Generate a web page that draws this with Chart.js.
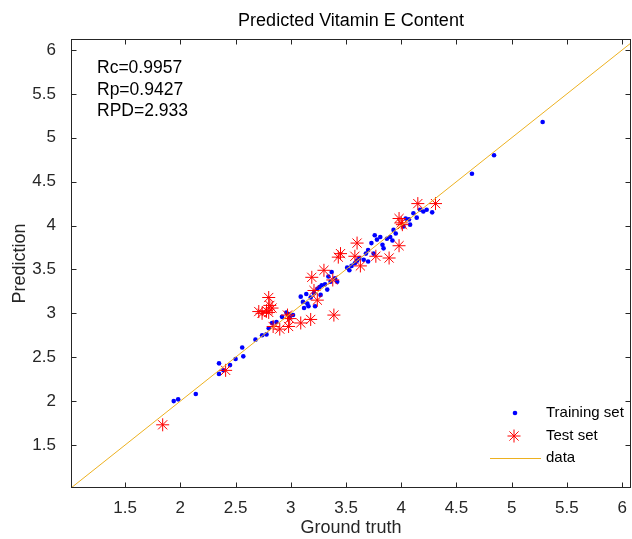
<!DOCTYPE html>
<html>
<head>
<meta charset="utf-8">
<script src="https://cdn.jsdelivr.net/npm/chart.js@4/dist/chart.umd.min.js"></script>
<style>
  html, body { margin: 0; padding: 0; background: #fff; }
  #wrap { width: 632px; height: 539px; }
</style>
</head>
<body>
<div id="wrap"><canvas id="chart" width="632" height="539"></canvas></div>
<script>
// valores
const trainX = [5.28, 4.84, 4.64, 4.28, 1.94, 1.98, 2.14, 2.35, 2.35, 2.45, 2.39, 2.50, 2.56, 2.57, 2.68, 2.74, 2.78, 2.80, 2.83,
  2.87, 2.92, 2.96, 2.99, 3.02, 2.98, 3.09, 3.14, 3.11, 3.15, 3.18, 3.21, 3.22, 3.12, 3.16, 3.27, 3.26, 3.28, 3.31, 3.34,
  3.37, 3.36, 3.40, 3.42, 3.33, 3.24, 3.51, 3.53, 3.55, 3.58, 3.60, 3.62, 3.66, 3.68, 3.70, 3.73, 3.76, 3.78, 3.81, 3.83,
  3.84, 3.87, 3.90, 3.92, 3.93, 3.95, 4.02, 4.04, 4.07, 4.08, 4.11, 4.14, 4.17, 4.20, 4.23, 3.75, 3.70];
const trainY = [5.18, 4.80, 4.59, 4.15, 2.00, 2.02, 2.08, 2.43, 2.31, 2.41, 2.35, 2.48, 2.61, 2.51, 2.70, 2.75, 2.76, 2.83, 2.89,
  2.90, 2.96, 3.01, 2.95, 2.98, 2.99, 3.19, 3.22, 3.13, 3.11, 3.18, 3.23, 3.08, 3.06, 3.08, 3.21, 3.30, 3.32, 3.33, 3.42,
  3.47, 3.36, 3.40, 3.36, 3.27, 3.28, 3.52, 3.49, 3.54, 3.57, 3.60, 3.63, 3.61, 3.68, 3.72, 3.80, 3.89, 3.84, 3.87, 3.78,
  3.74, 3.85, 3.87, 3.83, 3.95, 3.91, 3.99, 4.08, 4.07, 4.01, 4.14, 4.09, 4.18, 4.16, 4.18, 3.68, 3.59];

const testX = [4.15, 4.31, 3.98, 4.00, 4.01, 3.98, 3.60, 3.45, 3.43, 3.58, 3.77, 3.89, 3.63, 3.30, 3.19, 3.38, 3.21, 3.24,
  2.80, 2.81, 2.83, 2.71, 2.74, 2.78, 2.80, 3.39, 2.97, 2.99, 3.18, 3.09, 2.84, 2.90, 2.98, 1.84, 2.41];
const testY = [4.25, 4.25, 4.08, 4.03, 4.01, 3.77, 3.80, 3.68, 3.64, 3.65, 3.65, 3.63, 3.54, 3.49, 3.41, 3.38, 3.26, 3.15,
  3.18, 3.09, 3.06, 3.02, 3.00, 3.03, 3.01, 2.98, 2.98, 2.94, 2.93, 2.89, 2.85, 2.82, 2.85, 1.73, 2.35];

const lineX = [1.01, 6.08];
const lineY = [1.01, 6.08];

const xTicks = [1.5, 2, 2.5, 3, 3.5, 4, 4.5, 5, 5.5, 6];
const yTicks = [1.5, 2, 2.5, 3, 3.5, 4, 4.5, 5, 5.5, 6];

const statsText = ['Rc=0.9957', 'Rp=0.9427', 'RPD=2.933'];
const legendText = ['Training set', 'Test set', 'data'];

const FONT = '"Liberation Sans", Arial, Helvetica, sans-serif';
const AXIS_COLOR = '#262626';
const LINE_COLOR = '#EDB120';

const toPts = (xs, ys) => xs.map((x, i) => ({ x, y: ys[i] }));

// moldura estilo MATLAB, ticks para dentro, textos e legenda
const matlabDecor = {
  id: 'matlabDecor',
  afterDraw(chart) {
    const { ctx, chartArea: a, scales } = chart;
    const L = Math.round(a.left) + 0.5, R = Math.round(a.right) - 0.5;
    const T = Math.round(a.top) + 0.5, B = Math.round(a.bottom) - 0.5;
    ctx.save();
    ctx.strokeStyle = AXIS_COLOR;
    ctx.lineWidth = 1;
    ctx.strokeRect(L, T, R - L, B - T);

    const tl = 5;
    ctx.beginPath();
    xTicks.forEach(v => {
      const px = Math.round(scales.x.getPixelForValue(v)) + 0.5;
      ctx.moveTo(px, B); ctx.lineTo(px, B - tl);
      ctx.moveTo(px, T); ctx.lineTo(px, T + tl);
    });
    yTicks.forEach(v => {
      const py = Math.round(scales.y.getPixelForValue(v)) + 0.5;
      ctx.moveTo(L, py); ctx.lineTo(L + tl, py);
      ctx.moveTo(R, py); ctx.lineTo(R - tl, py);
    });
    ctx.stroke();

    // rótulos do eixo x (fora do Chart.js para não empurrar a área útil)
    ctx.fillStyle = AXIS_COLOR;
    ctx.textAlign = 'center';
    ctx.textBaseline = 'middle';
    ctx.font = '17px ' + FONT;
    xTicks.forEach(v => ctx.fillText(String(v), scales.x.getPixelForValue(v), 508));

    // título e rótulos dos eixos
    ctx.font = '18px ' + FONT;
    ctx.fillText('Ground truth', (a.left + a.right) / 2, 528);
    ctx.save();
    ctx.translate(20, (a.top + a.bottom) / 2);
    ctx.rotate(-Math.PI / 2);
    ctx.fillText('Prediction', 0, 0);
    ctx.restore();
    ctx.fillStyle = '#000';
    ctx.fillText('Predicted Vitamin E Content', (a.left + a.right) / 2, 21);

    // Rc / Rp / RPD
    ctx.textAlign = 'left';
    ctx.font = '17.5px ' + FONT;
    statsText.forEach((s, i) => ctx.fillText(s, 97, 68 + i * 21.7));

    // legenda
    ctx.font = '15px ' + FONT;
    const ly = [413, 436, 458];
    ctx.fillStyle = '#0000ff';
    ctx.beginPath(); ctx.arc(515, ly[0], 2.3, 0, Math.PI * 2); ctx.fill();
    ctx.strokeStyle = '#ff0000';
    ctx.beginPath();
    for (let k = 0; k < 4; k++) {
      const ang = k * Math.PI / 4, r = 6.5;
      ctx.moveTo(514 + r * Math.cos(ang), ly[1] + r * Math.sin(ang));
      ctx.lineTo(514 - r * Math.cos(ang), ly[1] - r * Math.sin(ang));
    }
    ctx.stroke();
    ctx.strokeStyle = LINE_COLOR;
    ctx.beginPath(); ctx.moveTo(490, ly[2] + 0.5); ctx.lineTo(541, ly[2] + 0.5); ctx.stroke();
    ctx.fillStyle = '#000';
    legendText.forEach((s, i) => ctx.fillText(s, 546, ly[i]));
    ctx.restore();
  },
};

new Chart(document.getElementById('chart'), {
  type: 'scatter',
  data: {
    datasets: [
      {
        label: legendText[0], data: toPts(trainX, trainY), order: 3,
        pointStyle: 'circle', pointRadius: 2.3, backgroundColor: '#0000ff', borderWidth: 0,
      },
      {
        label: legendText[1], data: toPts(testX, testY), order: 2,
        pointStyle: 'star', pointRadius: 6.5, borderColor: '#ff0000', backgroundColor: '#ff0000', borderWidth: 1,
      },
      {
        label: legendText[2], data: toPts(lineX, lineY), order: 1,
        showLine: true, pointRadius: 0, borderColor: LINE_COLOR, borderWidth: 1, fill: false,
      },
    ],
  },
  options: {
    responsive: false, animation: false, devicePixelRatio: 1,
    // autoPadding reservava espaço para o raio das estrelas e encolhia a área útil
    layout: { autoPadding: false, padding: { top: 39, right: 1, left: 0, bottom: 0 } },
    plugins: { legend: { display: false }, tooltip: { enabled: false }, title: { display: false } },
    scales: {
      x: {
        type: 'linear', min: 1.01, max: 6.08,
        afterBuildTicks: s => { s.ticks = xTicks.map(v => ({ value: v })); },
        afterFit: s => { s.height = 51; },
        ticks: { display: false },
        grid: { display: false, drawTicks: false },
        border: { display: false },
      },
      y: {
        type: 'linear', min: 1.01, max: 6.125,
        afterBuildTicks: s => { s.ticks = yTicks.map(v => ({ value: v })); },
        afterFit: s => { s.width = 71; },
        ticks: {
          color: AXIS_COLOR, font: { family: FONT, size: 17 }, padding: 15,
          autoSkip: false, callback: v => String(v),
        },
        grid: { display: false, drawTicks: false },
        border: { display: false },
      },
    },
  },
  plugins: [matlabDecor],
});
</script>
</body>
</html>
